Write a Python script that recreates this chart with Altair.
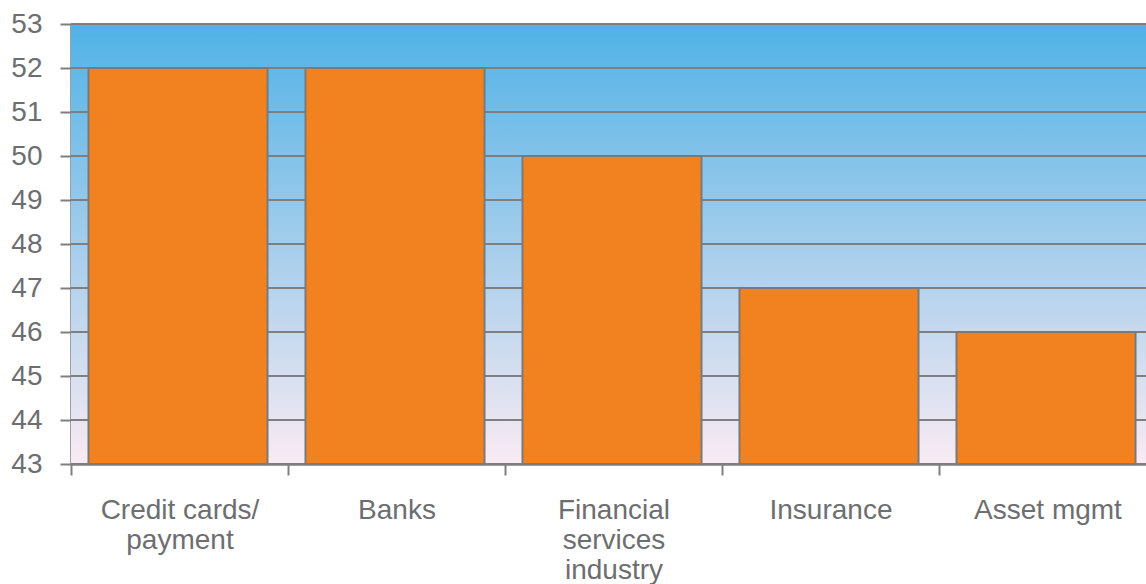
import altair as alt
import pandas as pd

categories = ["Credit cards/ payment", "Banks", "Financial services industry", "Insurance", "Asset mgmt"]
values = [52, 52, 50, 47, 46]
y_ticks = list(range(43, 54))

df = pd.DataFrame({"category": categories, "value": values})
grid_df = pd.DataFrame({"tick": y_ticks})

TEXT = "#6D6E71"
GRID = "#7F7F7F"
FONT = "Liberation Sans"
FS = 28

label_expr = (
    "datum.value == 'Credit cards/ payment' ? ['Credit cards/', 'payment'] : "
    "datum.value == 'Financial services industry' ? ['Financial', 'services', 'industry'] : datum.label"
)

gradient = alt.LinearGradient(
    gradient="linear", x1=0, y1=0, x2=0, y2=1,
    stops=[
        alt.GradientStop(offset=0, color="#50B2E6"),
        alt.GradientStop(offset=0.5, color="#A4CDEC"),
        alt.GradientStop(offset=1, color="#F9EBF3"),
    ],
)

yscale = alt.Scale(domain=[43, 53], nice=False, zero=False)
yaxis = alt.Axis(
    values=y_ticks, labelFontSize=FS, labelFont=FONT, labelColor=TEXT,
    labelPadding=18, tickSize=11, tickColor=GRID, tickWidth=2,
    domainColor=GRID, domainWidth=2.5, grid=False, title=None,
)

bg = alt.Chart(pd.DataFrame({"a": [0]})).mark_rect(color=gradient).encode(
    x=alt.value(0), x2=alt.value("width"), y=alt.value(0), y2=alt.value("height")
)

grid = alt.Chart(grid_df).mark_rule(color=GRID, strokeWidth=2).encode(
    y=alt.Y("tick:Q", scale=yscale, axis=yaxis, title=None),
    x=alt.value(0), x2=alt.value("width"),
)

bars = alt.Chart(df).mark_bar(
    color="#F28220", stroke="#7A7A7A", strokeWidth=2, width={"band": 0.825}, xOffset=-1.5
).encode(
    x=alt.X(
        "category:N", sort=None, title=None,
        scale=alt.Scale(range=[0, 1085], paddingInner=0, paddingOuter=0),
        axis=alt.Axis(
            labelAngle=0, labelExpr=label_expr, labelFontSize=FS, labelFont=FONT,
            labelColor=TEXT, labelPadding=21, labelLineHeight=30, labelBaseline="top",
            tickBand="extent", tickSize=11, tickColor=GRID, tickWidth=2,
            domainColor=GRID, domainWidth=2.5, grid=False, labelLimit=300,
        ),
    ),
    y=alt.Y("value:Q", title=None, scale=yscale, axis=yaxis),
    y2=alt.datum(43),
)

chart = alt.layer(bg, grid, bars).properties(
    width=1075, height=440,
    autosize=alt.AutoSizeParams(type="none"),
    padding={"left": 71, "top": 24, "right": 0, "bottom": 120},
).configure_view(stroke=None).configure(background="white")

chart.save("out.html", embed_options={"renderer": "svg", "actions": False})
